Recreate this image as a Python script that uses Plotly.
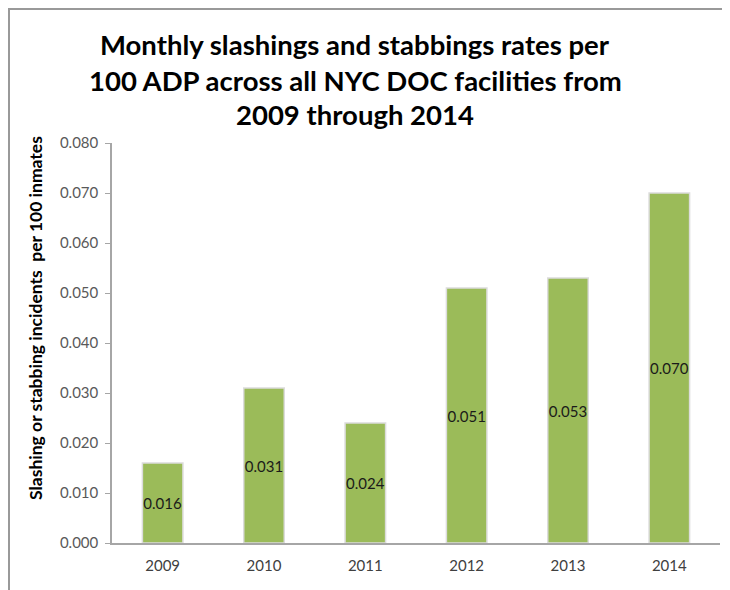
import plotly.graph_objects as go

years = ["2009", "2010", "2011", "2012", "2013", "2014"]
rates = [0.016, 0.031, 0.024, 0.051, 0.053, 0.070]
labels = ["0.016", "0.031", "0.024", "0.051", "0.053", "0.070"]
y_ticks = [0.0, 0.01, 0.02, 0.03, 0.04, 0.05, 0.06, 0.07, 0.08]
y_ticklabels = ["0.000", "0.010", "0.020", "0.030", "0.040", "0.050", "0.060", "0.070", "0.080"]
title_lines = ["Monthly slashings and stabbings rates per",
               "100 ADP across all NYC DOC facilities from",
               "2009 through 2014"]
y_title = "Slashing or stabbing incidents  per 100 inmates"

FONT = "Lato"
OFF = 8  # page body margin
W, H = 722, 582
L, T = 112 - OFF, 143 - OFF
R = W - (720 - OFF)
B = H - (543 - OFF)
pw, ph = W - L - R, H - T - B

def px_x(x):
    return (x - OFF - L) / pw

def px_y(y):
    return (H - B - (y - OFF)) / ph

fig = go.Figure()
fig.add_trace(go.Bar(
    x=years, y=rates, text=labels,
    textposition="inside", insidetextanchor="middle", textangle=0,
    constraintext="none",
    textfont=dict(family=FONT, size=15, color="#1a1a1a"),
    marker=dict(color="#9BBB59", line=dict(color="#dcdcdc", width=1.5)),
    width=0.4, cliponaxis=False,
))

annotations = []
for line, ypx in zip(title_lines, [45, 80, 114]):
    annotations.append(dict(
        text="<b>%s</b>" % line, x=px_x(355), y=px_y(ypx), xref="paper", yref="paper",
        showarrow=False, xanchor="center", yanchor="middle",
        font=dict(family=FONT, size=27.5, color="#000000")))
annotations.append(dict(
    text="<b>%s</b>" % y_title, x=px_x(35), y=px_y(318), xref="paper", yref="paper",
    showarrow=False, textangle=-90, xanchor="center", yanchor="middle",
    font=dict(family=FONT, size=17.5, color="#000000")))

fig.update_layout(
    width=W, height=H,
    margin=dict(l=L, r=R, t=T, b=B),
    paper_bgcolor="white", plot_bgcolor="white",
    showlegend=False,
    annotations=annotations,
    shapes=[
        dict(type="line", xref="paper", yref="paper", x0=px_x(8), x1=px_x(740),
             y0=px_y(9), y1=px_y(9), line=dict(color="#999999", width=2)),
        dict(type="line", xref="paper", yref="paper", x0=px_x(9), x1=px_x(9),
             y0=px_y(9), y1=px_y(600), line=dict(color="#999999", width=2)),
    ],
)
fig.update_xaxes(
    showline=True, linecolor="#a6a6a6", linewidth=1.5,
    ticks="", showgrid=False, ticklabelstandoff=8,
    tickfont=dict(family=FONT, size=15, color="#404040"),
)
fig.update_yaxes(
    range=[0, 0.08], tickvals=y_ticks, ticktext=y_ticklabels,
    showline=True, linecolor="#a6a6a6", linewidth=1.5,
    ticks="outside", ticklen=5, tickcolor="#a6a6a6", ticklabelstandoff=4,
    showgrid=False, zeroline=False,
    tickfont=dict(family=FONT, size=15, color="#595959"),
)
fig.write_html("out.html")
